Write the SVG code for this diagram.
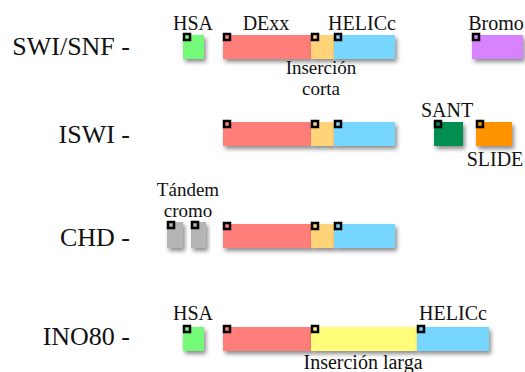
<svg xmlns="http://www.w3.org/2000/svg" width="525" height="372" viewBox="0 0 525 372">
<defs>
<filter id="sh" x="-20%" y="-30%" width="150%" height="180%">
<feDropShadow dx="2" dy="3" stdDeviation="2" flood-color="#000" flood-opacity="0.45"/>
</filter>
<style>
.t{font-family:'Liberation Serif', 'Times New Roman', serif;fill:#111}
.row{font-size:26px;text-anchor:end}
.lbl{font-size:20px;text-anchor:middle}
.sm{font-size:19px;text-anchor:middle}
.dom{filter:url(#sh)}
.pin{stroke:#000;stroke-width:2.5}
.salmon{fill:#FF7E79}.cant{fill:#FFD479}.sky{fill:#76D6FF}.flora{fill:#73FA79}
.lav{fill:#D783FF}.moss{fill:#008F51}.tang{fill:#FF9300}.gray{fill:#B5B5B5}.banana{fill:#FFFC79}
</style>
</defs>

<g id="swisnf" font-family="Liberation Serif, serif">
<text class="t row" x="130" y="55">SWI/SNF -</text>
<text class="t lbl" x="193" y="30">HSA</text>
<text class="t lbl" x="266" y="30">DExx</text>
<text class="t lbl" x="362" y="30">HELICc</text>
<text class="t lbl" x="496" y="30">Bromo</text>
<text class="t sm" x="321" y="74">Inserción</text>
<text class="t sm" x="321" y="95">corta</text>
<rect class="dom flora" x="183" y="35" width="21" height="24"/>
<rect class="dom salmon" x="223" y="35" width="88" height="24"/>
<rect class="dom cant" x="311" y="35" width="23" height="24"/>
<rect class="dom sky" x="334" y="35" width="61" height="24"/>
<rect class="dom lav" x="472" y="35" width="51" height="24"/>
<rect class="pin flora" x="184" y="34" width="6" height="6"/>
<rect class="pin salmon" x="224" y="34" width="6" height="6"/>
<rect class="pin cant" x="312" y="34" width="6" height="6"/>
<rect class="pin sky" x="335" y="34" width="6" height="6"/>
<rect class="pin lav" x="473" y="34" width="6" height="6"/>
</g>

<g id="iswi" font-family="Liberation Serif, serif">
<text class="t row" x="130" y="143">ISWI -</text>
<text class="t lbl" x="447" y="117">SANT</text>
<text class="t lbl" x="495" y="166">SLIDE</text>
<rect class="dom salmon" x="223" y="122" width="88" height="24"/>
<rect class="dom cant" x="311" y="122" width="23" height="24"/>
<rect class="dom sky" x="334" y="122" width="61" height="24"/>
<rect class="dom moss" x="434" y="122" width="29" height="24"/>
<rect class="dom tang" x="476" y="122" width="36" height="24"/>
<rect class="pin salmon" x="224" y="121" width="6" height="6"/>
<rect class="pin cant" x="312" y="121" width="6" height="6"/>
<rect class="pin sky" x="335" y="121" width="6" height="6"/>
<rect class="pin moss" x="435" y="121" width="6" height="6"/>
<rect class="pin tang" x="477" y="121" width="6" height="6"/>
</g>

<g id="chd" font-family="Liberation Serif, serif">
<text class="t row" x="130" y="246">CHD -</text>
<text class="t sm" x="188" y="196">Tándem</text>
<text class="t sm" x="188" y="217">cromo</text>
<rect class="dom gray" x="167" y="222" width="16" height="26"/>
<rect class="dom gray" x="191" y="222" width="15" height="26"/>
<rect class="dom salmon" x="223" y="224" width="88" height="24"/>
<rect class="dom cant" x="311" y="224" width="23" height="24"/>
<rect class="dom sky" x="334" y="224" width="61" height="24"/>
<rect class="pin gray" x="168" y="222" width="6" height="6"/>
<rect class="pin gray" x="192" y="222" width="6" height="6"/>
<rect class="pin salmon" x="224" y="223" width="6" height="6"/>
<rect class="pin cant" x="312" y="223" width="6" height="6"/>
<rect class="pin sky" x="335" y="223" width="6" height="6"/>
</g>

<g id="ino80" font-family="Liberation Serif, serif">
<text class="t row" x="130" y="345">INO80 -</text>
<text class="t lbl" x="193" y="320">HSA</text>
<text class="t lbl" x="453" y="320">HELICc</text>
<text class="t lbl" x="363" y="369">Inserción larga</text>
<rect class="dom flora" x="183" y="327" width="21" height="24"/>
<rect class="dom salmon" x="223" y="327" width="88" height="24"/>
<rect class="dom banana" x="311" y="327" width="106" height="24"/>
<rect class="dom sky" x="417" y="327" width="72" height="24"/>
<rect class="pin flora" x="184" y="326" width="6" height="6"/>
<rect class="pin salmon" x="224" y="326" width="6" height="6"/>
<rect class="pin banana" x="312" y="326" width="6" height="6"/>
<rect class="pin sky" x="418" y="326" width="6" height="6"/>
</g>

<g id="connectors"></g>
</svg>
